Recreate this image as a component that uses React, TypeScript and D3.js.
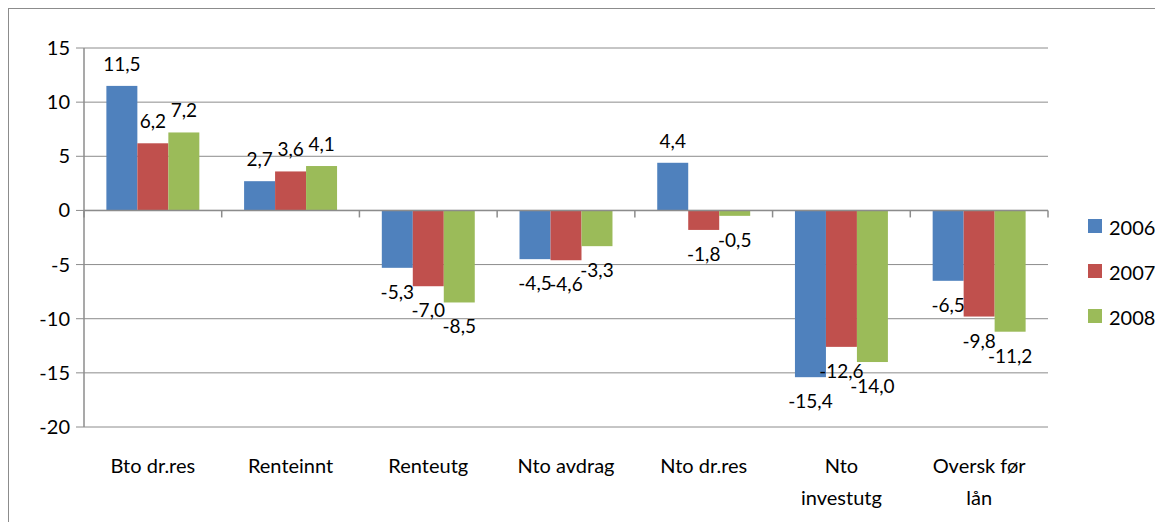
import React from "react";
import * as d3 from "d3";

const categories: string[][] = [
  ["Bto dr.res"],
  ["Renteinnt"],
  ["Renteutg"],
  ["Nto avdrag"],
  ["Nto dr.res"],
  ["Nto", "investutg"],
  ["Oversk før", "lån"],
];
const seriesNames = ["2006", "2007", "2008"];
const values2006 = [11.5, 2.7, -5.3, -4.5, 4.4, -15.4, -6.5];
const values2007 = [6.2, 3.6, -7.0, -4.6, -1.8, -12.6, -9.8];
const values2008 = [7.2, 4.1, -8.5, -3.3, -0.5, -14.0, -11.2];
const yTicks = [15, 10, 5, 0, -5, -10, -15, -20];
const colors = ["#4f81bd", "#c0504d", "#9bbb59"];

const W = 1155;
const H = 514;
const FONT = "Lato, 'Open Sans', sans-serif";

export default function App() {
  const series = [values2006, values2007, values2008];
  const left = 76;
  const right = 1040;
  const y = d3.scaleLinear().domain([-20, 15]).range([419, 40]);
  const idx = categories.map((_, i) => String(i));
  const x = d3.scaleBand().domain(idx).range([left, right]).padding(0);
  const bw = x.bandwidth();
  const groupW = bw * 0.675;
  const inner = d3
    .scaleBand()
    .domain(seriesNames)
    .range([(bw - groupW) / 2, (bw + groupW) / 2])
    .padding(0);
  const fmt = (v: number) => v.toFixed(1).replace(".", ",");
  const y0 = y(0);

  return (
    <svg width={W} height={H} style={{ display: "block", overflow: "hidden" }} fontFamily={FONT}>
      <rect x={0.5} y={0.5} width={1300} height={700} fill="#fff" stroke="#8c8c8c" />
      {/* gridlines */}
      {yTicks.map((t) => (
        <g key={t}>
          <line x1={left - 8} x2={right} y1={y(t)} y2={y(t)} stroke="#8c8c8c" strokeWidth={1} />
          <text x={left - 14} y={y(t) + 7} fontSize={20} textAnchor="end" fill="#000">
            {t}
          </text>
        </g>
      ))}
      {/* bars */}
      {series.map((vals, si) =>
        vals.map((v, ci) => {
          const bx = (x(String(ci)) as number) + (inner(seriesNames[si]) as number);
          const top = Math.min(y(v), y0);
          const h = Math.abs(y(v) - y0);
          return <rect key={`${si}-${ci}`} x={bx} y={top} width={inner.bandwidth()} height={h} fill={colors[si]} />;
        })
      )}
      {/* axes */}
      <line x1={left} x2={left} y1={y(15)} y2={y(-20)} stroke="#8c8c8c" strokeWidth={1.5} />
      <line x1={left} x2={right} y1={y0} y2={y0} stroke="#8c8c8c" strokeWidth={1.5} />
      {d3.range(categories.length + 1).map((i) => {
        const tx = left + i * bw;
        return <line key={i} x1={tx} x2={tx} y1={y0} y2={y0 + 7} stroke="#8c8c8c" strokeWidth={1.5} />;
      })}
      {/* data labels */}
      {series.map((vals, si) =>
        vals.map((v, ci) => {
          const cx = (x(String(ci)) as number) + (inner(seriesNames[si]) as number) + inner.bandwidth() / 2;
          const ty = v >= 0 ? y(v) - 15 : y(v) + 31;
          return (
            <text key={`l${si}-${ci}`} x={cx} y={ty} fontSize={19} textAnchor="middle" fill="#000">
              {fmt(v)}
            </text>
          );
        })
      )}
      {/* category labels */}
      {categories.map((lines, ci) => (
        <text
          key={`c${ci}`}
          x={(x(String(ci)) as number) + bw / 2}
          y={465}
          fontSize={20}
          textAnchor="middle"
          fill="#000"
        >
          {lines.map((ln, li) => (
            <tspan key={li} x={(x(String(ci)) as number) + bw / 2} dy={li === 0 ? 0 : 32}>
              {ln}
            </tspan>
          ))}
        </text>
      ))}
      {/* legend */}
      {seriesNames.map((s, si) => (
        <g key={s} transform={`translate(1080, ${211 + si * 45})`}>
          <rect x={0} y={0} width={14} height={14} fill={colors[si]} />
          <text x={21} y={16} fontSize={20} fill="#000">
            {s}
          </text>
        </g>
      ))}
    </svg>
  );
}
